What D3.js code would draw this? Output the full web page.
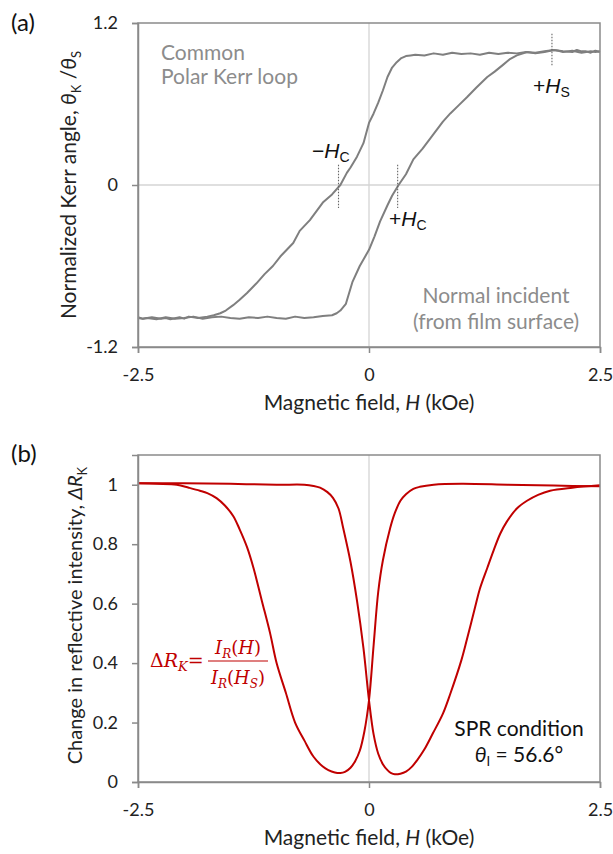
<!DOCTYPE html>
<html>
<head>
<meta charset="utf-8">
<script src="https://cdn.jsdelivr.net/npm/d3@7"></script>
<style>
  body { margin: 0; background: #fff; }
  svg text { font-family: Lato, "Open Sans", sans-serif; }
</style>
</head>
<body>
<div id="chart"></div>
<script>
// (a) polar Kerr loop, [H (kOe), theta_K/theta_S]
const loopDown = [
  [2.5,0.985],[2.45,0.995],[2.4,0.98],[2.35,0.99],[2.3,0.99],[2.25,1.0],[2.2,0.985],[2.1,0.99],
  [2.0,1.0],[1.9,0.985],[1.8,0.975],[1.7,0.985],[1.6,0.975],[1.5,0.98],[1.4,0.97],[1.3,0.98],
  [1.2,0.965],[1.1,0.975],[1.0,0.97],[0.9,0.98],[0.8,0.965],[0.7,0.975],[0.6,0.96],[0.5,0.965],
  [0.45,0.96],[0.4,0.955],[0.35,0.94],[0.3,0.91],[0.25,0.87],[0.2,0.8],[0.15,0.7],[0.1,0.61],
  [0.05,0.53],[0,0.46],[-0.06,0.31],[-0.13,0.21],[-0.2,0.13],[-0.24,0.09],[-0.31,0.0],[-0.4,-0.07],
  [-0.5,-0.13],[-0.64,-0.26],[-0.75,-0.34],[-0.82,-0.43],[-0.89,-0.48],[-0.96,-0.53],[-1.04,-0.6],
  [-1.13,-0.66],[-1.22,-0.73],[-1.32,-0.8],[-1.4,-0.85],[-1.47,-0.89],[-1.55,-0.93],[-1.61,-0.95],
  [-1.68,-0.965],[-1.75,-0.975],[-1.85,-0.985],[-1.95,-0.975],[-2.0,-0.99],[-2.05,-0.98],
  [-2.15,-0.995],[-2.2,-0.985],[-2.25,-0.99],[-2.35,-0.98],[-2.45,-0.99],[-2.5,-0.985]
];
const loopUp = [
  [-2.5,-0.98],[-2.45,-0.99],[-2.4,-0.985],[-2.3,-0.995],[-2.2,-0.98],[-2.1,-0.99],[-2.0,-0.985],
  [-1.9,-0.975],[-1.8,-0.99],[-1.7,-0.98],[-1.6,-0.975],[-1.5,-0.985],[-1.4,-0.99],[-1.3,-0.98],
  [-1.2,-0.985],[-1.1,-0.975],[-1.0,-0.985],[-0.9,-0.99],[-0.8,-0.975],[-0.7,-0.985],[-0.6,-0.98],
  [-0.5,-0.97],[-0.4,-0.965],[-0.35,-0.95],[-0.31,-0.93],[-0.25,-0.88],[-0.18,-0.72],[-0.1,-0.6],
  [0,-0.48],[0.06,-0.38],[0.12,-0.27],[0.2,-0.15],[0.25,-0.08],[0.32,0.0],[0.4,0.08],[0.48,0.19],
  [0.58,0.27],[0.69,0.37],[0.8,0.47],[0.88,0.53],[0.97,0.59],[1.06,0.65],[1.16,0.72],[1.28,0.8],
  [1.36,0.84],[1.45,0.89],[1.52,0.93],[1.6,0.96],[1.71,0.985],[1.8,0.98],[1.9,0.99],[2.0,1.0],
  [2.05,0.995],[2.1,0.985],[2.2,0.995],[2.3,0.98],[2.4,0.99],[2.45,0.985],[2.5,0.99]
];

// (b) change in reflective intensity, [H (kOe), dR_K]
const dipLeft = [
  [2.5,0.995],[2.0,0.997],[1.5,1.0],[1.0,1.003],[0.7,1.0],[0.55,0.993],[0.48,0.986],[0.4,0.968],
  [0.34,0.946],[0.28,0.905],[0.23,0.855],[0.15,0.745],[0.1,0.64],[0.05,0.46],[0,0.275],[-0.05,0.17],
  [-0.1,0.105],[-0.15,0.07],[-0.2,0.048],[-0.26,0.034],[-0.31,0.03],[-0.37,0.032],[-0.44,0.04],
  [-0.5,0.052],[-0.6,0.085],[-0.7,0.14],[-0.8,0.2],[-0.9,0.3],[-1.0,0.4],[-1.07,0.5],[-1.16,0.61],
  [-1.25,0.72],[-1.32,0.79],[-1.4,0.85],[-1.47,0.895],[-1.56,0.93],[-1.65,0.955],[-1.75,0.972],
  [-1.83,0.98],[-1.95,0.99],[-2.08,1.0],[-2.3,1.003],[-2.5,1.005]
];
const dipRight = [
  [-2.5,1.005],[-2.0,1.005],[-1.5,1.003],[-1.0,1.0],[-0.7,1.0],[-0.6,0.996],[-0.53,0.99],
  [-0.45,0.975],[-0.39,0.956],[-0.33,0.92],[-0.28,0.855],[-0.2,0.74],[-0.13,0.61],[-0.06,0.45],
  [0,0.275],[0.05,0.16],[0.1,0.095],[0.15,0.06],[0.2,0.04],[0.24,0.03],[0.28,0.026],[0.34,0.028],
  [0.4,0.035],[0.46,0.05],[0.52,0.073],[0.6,0.11],[0.69,0.163],[0.8,0.23],[0.88,0.297],[1.0,0.41],
  [1.06,0.48],[1.15,0.59],[1.2,0.65],[1.28,0.72],[1.35,0.78],[1.42,0.835],[1.49,0.875],[1.6,0.92],
  [1.71,0.946],[1.83,0.966],[1.96,0.98],[2.2,0.99],[2.5,0.998]
];

const xTicks = [-2.5, 0, 2.5];
const yTicksA = [-1.2, 0, 1.2];
const yTicksB = [0, 0.2, 0.4, 0.6, 0.8, 1];
const markers = { hcMinus: -0.33, hcPlus: 0.31, hs: 1.98 };

const W = 613, H = 854;
const frameColor = '#8a8a8a', gridColor = '#d4d4d4';
const svg = d3.select('#chart').append('svg').attr('width', W).attr('height', H);

const x = d3.scaleLinear().domain([-2.5, 2.5]).range([138, 600]);
const yA = d3.scaleLinear().domain([-1.2, 1.2]).range([347, 23]);
const yB = d3.scaleLinear().domain([0, 1.1]).range([782, 455]);

const panel = (y, yTicks, curves, color, curve) => {
  const g = svg.append('g');
  const [y0, y1] = y.range();
  // zero grid lines
  g.append('line').attr('x1', x(0)).attr('x2', x(0)).attr('y1', y1).attr('y2', y0)
    .attr('stroke', gridColor).attr('stroke-width', 1.3);
  if (y.domain()[0] < 0) {
    g.append('line').attr('x1', x.range()[0]).attr('x2', x.range()[1]).attr('y1', y(0)).attr('y2', y(0))
      .attr('stroke', gridColor).attr('stroke-width', 1.3);
  }
  const line = d3.line().x(d => x(d[0])).y(d => y(d[1])).curve(curve);
  curves.forEach(c => {
    g.append('path').attr('d', line(c)).attr('fill', 'none')
      .attr('stroke', color).attr('stroke-width', 2).attr('stroke-linejoin', 'round');
  });
  // frame
  g.append('rect').attr('x', x.range()[0]).attr('y', y1).attr('width', x.range()[1] - x.range()[0])
    .attr('height', y0 - y1).attr('fill', 'none').attr('stroke', frameColor).attr('stroke-width', 1.5);
  const yAxis = g.append('g').attr('transform', `translate(${x.range()[0]},0)`)
    .call(d3.axisLeft(y).tickValues(yTicks).tickFormat(d => String(d)).tickSize(6).tickPadding(14));
  const xAxis = g.append('g').attr('transform', `translate(0,${y0})`)
    .call(d3.axisBottom(x).tickValues(xTicks).tickFormat(d => String(d)).tickSize(6).tickPadding(15));
  [yAxis, xAxis].forEach(a => {
    a.select('.domain').attr('stroke', frameColor).attr('stroke-width', 1.5);
    a.selectAll('.tick line').attr('stroke', frameColor).attr('stroke-width', 1.5);
    a.selectAll('.tick text').attr('fill', '#222').style('font-size', '18px')
      .style('font-family', 'Lato, sans-serif');
  });
  g.append('text').attr('x', x(0)).attr('y', y0 + 63).attr('text-anchor', 'middle')
    .attr('fill', '#222').style('font-size', '21px')
    .call(t => {
      t.append('tspan').text('Magnetic field, ');
      t.append('tspan').attr('font-style', 'italic').text('H');
      t.append('tspan').text(' (kOe)');
    });
  return g;
};

const gA = panel(yA, yTicksA, [loopDown, loopUp], '#7f7f7f', d3.curveLinear);
const gB = panel(yB, yTicksB, [dipLeft, dipRight], '#c00000', d3.curveCatmullRom.alpha(0.5));

// panel letters
svg.append('text').attr('x', 11).attr('y', 31).style('font-size', '24px').attr('fill', '#111').text('(a)');
svg.append('text').attr('x', 11).attr('y', 462).style('font-size', '24px').attr('fill', '#111').text('(b)');

// y-axis titles
svg.append('text').attr('transform', `translate(76,${yA(0)}) rotate(-90)`).attr('text-anchor', 'middle')
  .attr('fill', '#222').style('font-size', '21px')
  .call(t => {
    t.append('tspan').text('Normalized Kerr angle, ');
    t.append('tspan').attr('font-style', 'italic').text('θ');
    t.append('tspan').attr('dy', 5).style('font-size', '13px').text('K');
    t.append('tspan').attr('dy', -5).text(' /');
    t.append('tspan').attr('font-style', 'italic').text('θ');
    t.append('tspan').attr('dy', 5).style('font-size', '13px').text('S');
  });
svg.append('text').attr('transform', `translate(82,${yB(0.56)}) rotate(-90)`).attr('text-anchor', 'middle')
  .attr('fill', '#222').style('font-size', '20px')
  .call(t => {
    t.append('tspan').text('Change in reflective intensity, ');
    t.append('tspan').attr('font-style', 'italic').text('ΔR');
    t.append('tspan').attr('dy', 5).style('font-size', '13px').text('K');
  });

// (a) annotations
const gray = '#8c8c8c';
gA.append('text').attr('x', 161).attr('y', 60).attr('fill', gray).style('font-size', '21px').text('Common');
gA.append('text').attr('x', 161).attr('y', 84).attr('fill', gray).style('font-size', '21px').text('Polar Kerr loop');
gA.append('text').attr('x', 496).attr('y', 303).attr('text-anchor', 'middle').attr('fill', gray)
  .style('font-size', '21px').text('Normal incident');
gA.append('text').attr('x', 496).attr('y', 329).attr('text-anchor', 'middle').attr('fill', gray)
  .style('font-size', '21px').text('(from film surface)');

const dotted = (h, ya, yb) => gA.append('line').attr('x1', x(h)).attr('x2', x(h))
  .attr('y1', yA(ya)).attr('y2', yA(yb)).attr('stroke', '#666').attr('stroke-width', 1.1)
  .attr('stroke-dasharray', '1.5,1.5');
dotted(markers.hcMinus, 0.15, -0.17);
dotted(markers.hcPlus, 0.15, -0.17);
dotted(markers.hs, 1.12, 0.88);

const hLabel = (px, py, sign, sub) => gA.append('text').attr('x', px).attr('y', py).attr('fill', '#111')
  .style('font-family', '"Liberation Sans", Arial, sans-serif').style('font-size', '21px')
  .call(t => {
    t.append('tspan').text(sign);
    t.append('tspan').attr('font-style', 'italic').text('H');
    t.append('tspan').attr('dy', 4).style('font-size', '14px').text(sub);
  });
hLabel(312, 158, '−', 'C');
hLabel(389, 226, '+', 'C');
hLabel(533, 93, '+', 'S');

// (b) annotations
const red = '#c00000';
const serif = '"DejaVu Serif", "Liberation Serif", serif';
gB.append('text').attr('x', 150).attr('y', 667).attr('fill', red).style('font-family', serif)
  .style('font-size', '19px')
  .call(t => {
    t.append('tspan').text('Δ');
    t.append('tspan').attr('font-style', 'italic').text('R');
    t.append('tspan').attr('dy', 4).attr('font-style', 'italic').style('font-size', '13px').text('K');
    t.append('tspan').attr('dy', -4).text('=');
  });
const frac = (py, sub) => gB.append('text').attr('x', 238).attr('y', py).attr('text-anchor', 'middle')
  .attr('fill', red).style('font-family', serif).style('font-size', '18px')
  .call(t => {
    t.append('tspan').attr('font-style', 'italic').text('I');
    t.append('tspan').attr('dy', 4).attr('font-style', 'italic').style('font-size', '12px').text('R');
    t.append('tspan').attr('dy', -4).text('(');
    t.append('tspan').attr('font-style', 'italic').text('H');
    if (sub) t.append('tspan').attr('dy', 4).attr('font-style', 'italic').style('font-size', '12px').text(sub);
    t.append('tspan').attr('dy', sub ? -4 : 0).text(')');
  });
frac(654, null);
frac(684, 'S');
gB.append('line').attr('x1', 208).attr('x2', 268).attr('y1', 661).attr('y2', 661)
  .attr('stroke', red).attr('stroke-width', 1.2);

gB.append('text').attr('x', 519).attr('y', 736).attr('text-anchor', 'middle').attr('fill', '#111')
  .style('font-size', '21px').text('SPR condition');
gB.append('text').attr('x', 519).attr('y', 762).attr('text-anchor', 'middle').attr('fill', '#111')
  .style('font-size', '21px')
  .call(t => {
    t.append('tspan').attr('font-style', 'italic').text('θ');
    t.append('tspan').attr('dy', 4).style('font-size', '13px').text('I');
    t.append('tspan').attr('dy', -4).text(' = 56.6°');
  });
</script>
</body>
</html>
